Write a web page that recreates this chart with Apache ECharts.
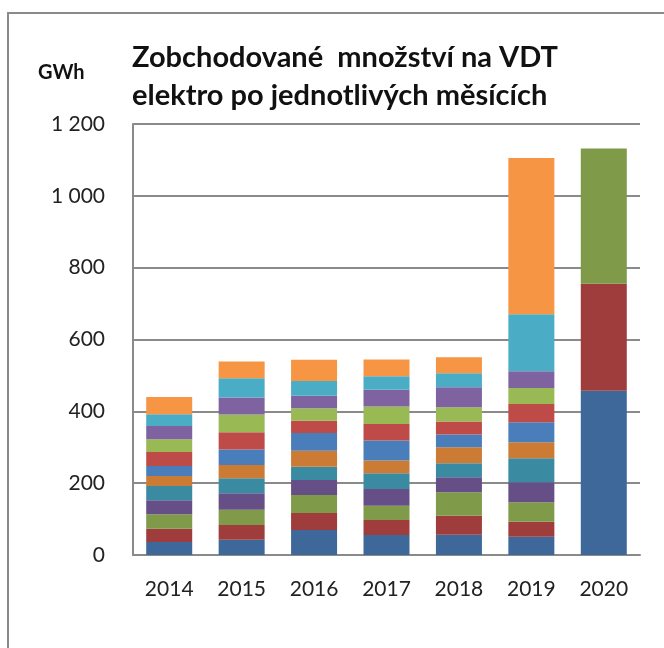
<!DOCTYPE html>
<html>
<head>
<meta charset="utf-8">
<script src="https://cdn.jsdelivr.net/npm/echarts@6/dist/echarts.min.js"></script>
<style>
html,body{margin:0;padding:0;background:#fff;}
#chart{width:664px;height:648px;}
</style>
</head>
<body>
<div id="chart"></div>
<script>
// Categories (years)
var years = ['2014', '2015', '2016', '2017', '2018', '2019', '2020'];
// Monthly traded volume (GWh) per year
var leden    = [36.2, 42.7, 69.6, 55.7, 56.7, 51.1, 457];
var unor     = [37.1, 40.9, 47.4, 41.8, 52.9, 41.8, 298];
var brezen   = [39.9, 42.7, 50.1, 39.9, 65.0, 53.8, 377];
var duben    = [39.0, 45.5, 41.8, 46.5, 41.8, 55.7, null];
var kveten   = [39.9, 41.8, 37.1, 43.6, 39.0, 66.9, null];
var cerven   = [27.8, 37.1, 44.5, 35.3, 44.5, 44.5, null];
var cervenec = [27.8, 42.7, 49.2, 55.7, 35.3, 55.7, null];
var srpen    = [39.0, 48.3, 34.3, 46.5, 36.2, 51.1, null];
var zari     = [35.3, 49.2, 34.3, 48.3, 39.9, 44.5, null];
var rijen    = [37.1, 47.4, 35.3, 46.5, 55.7, 46.5, null];
var listopad = [32.5, 53.8, 40.9, 38.1, 39.0, 159, null];
var prosinec = [48.3, 46.5, 59.4, 46.5, 44.5, 435, null];
var monthNames = ['leden','únor','březen','duben','květen','červen','červenec','srpen','září','říjen','listopad','prosinec'];
var monthData = [leden, unor, brezen, duben, kveten, cerven, cervenec, srpen, zari, rijen, listopad, prosinec];
var monthColors = ['#3E6899','#9E3D3B','#7F9A48','#664E86','#3A8BA1','#CB7B34',
                   '#4A7EBB','#BE4B48','#98B954','#7E63A0','#4AACC5','#F69544'];
var yTicks = [0, 200, 400, 600, 800, 1000, 1200];

var FONT = 'Lato';
var chart = echarts.init(document.getElementById('chart'), null, {renderer: 'canvas'});

var series = monthNames.map(function (name, i) {
  return {
    name: name,
    type: 'bar',
    stack: 'total',
    barWidth: 46,
    data: monthData[i],
    itemStyle: {color: monthColors[i]},
    emphasis: {disabled: true}
  };
});

chart.setOption({
  animation: false,
  textStyle: {fontFamily: FONT},
  title: {
    text: 'Zobchodované  množství na VDT\nelektro po jednotlivých měsících',
    left: 127,
    top: 34,
    textStyle: {fontFamily: FONT, fontSize: 29, fontWeight: 'bold', color: '#111', lineHeight: 38}
  },
  graphic: [
    {type: 'rect', shape: {x: 8, y: 13, width: 800, height: 800},
     style: {fill: 'none', stroke: '#8a8a8a', lineWidth: 2}, silent: true, z: -1},
    {type: 'text', left: 38, top: 63,
     style: {text: 'GWh', fontFamily: FONT, fontSize: 20, fontWeight: 'bold', fill: '#111'}}
  ],
  grid: {left: 133, right: 24, top: 124, bottom: 93, containLabel: false},
  xAxis: {
    type: 'category',
    data: years,
    axisLine: {show: true, lineStyle: {color: '#8a8a8a', width: 2}},
    axisTick: {show: false},
    axisLabel: {color: '#222', fontSize: 21, fontFamily: FONT, margin: 24}
  },
  yAxis: {
    type: 'value',
    min: yTicks[0],
    max: yTicks[yTicks.length - 1],
    interval: yTicks[1] - yTicks[0],
    axisLine: {show: true, lineStyle: {color: '#8a8a8a', width: 2}},
    axisTick: {show: false},
    splitLine: {lineStyle: {color: '#8a8a8a', width: 2}},
    axisLabel: {
      color: '#222', fontSize: 21, fontFamily: FONT, margin: 28,
      formatter: function (v) { return String(v).replace(/\B(?=(\d{3})+(?!\d))/g, ' '); }
    }
  },
  series: series
});
</script>
</body>
</html>
